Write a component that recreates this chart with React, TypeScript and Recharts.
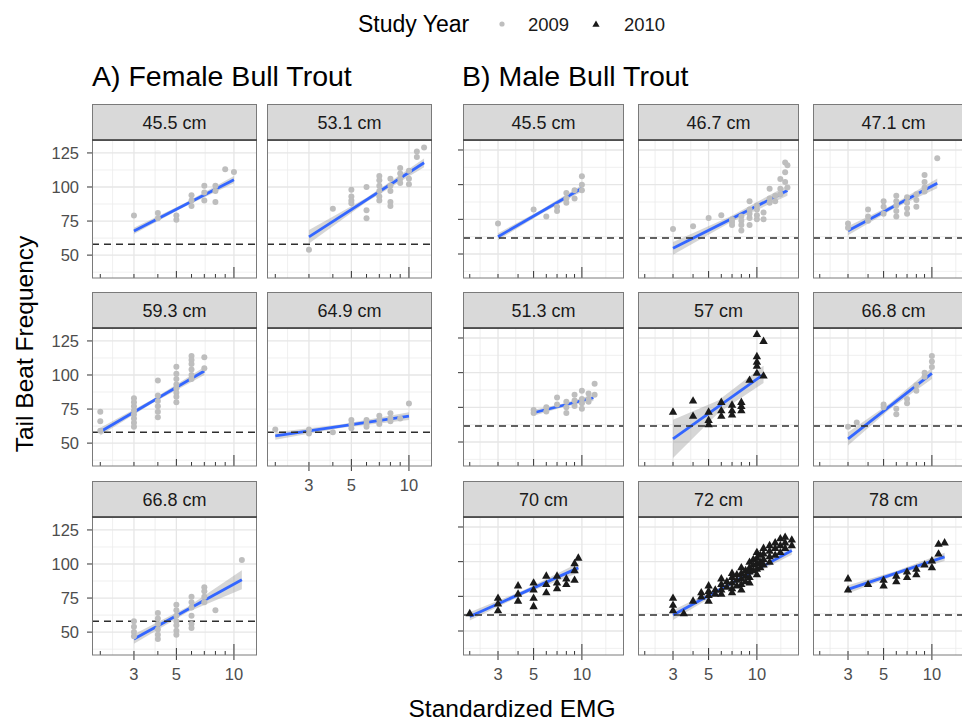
import React from "react";
import {
  ComposedChart,
  Scatter,
  Line,
  Area,
  XAxis,
  YAxis,
  CartesianGrid,
  ReferenceLine,
} from "recharts";

type Pt = [number, number];
type BandPt = [number, number, number];

const FONT = '"Liberation Sans", Arial, Helvetica, sans-serif';

// ---- data: [standardized EMG, tail beat frequency] ----

const F_45_5: Pt[] = [
  [3, 79], [4, 81], [4, 77], [5, 79], [5, 76], [6, 94], [6, 90], [6, 86],
  [7, 101], [7, 96], [7, 90], [8, 101], [8, 97], [8, 89], [9, 113], [10, 111],
];
const F_53_1: Pt[] = [
  [3, 54], [4, 84], [5, 98], [5, 93], [5, 90], [5, 88], [6, 100], [6, 83], [6, 77],
  [7, 108], [7, 105], [7, 101], [7, 97], [7, 93], [7, 90], [8, 106], [8, 101],
  [8, 97], [8, 89], [8, 86], [9, 114], [9, 110], [9, 106], [9, 103], [10, 112],
  [10, 106], [10, 102], [11, 126], [11, 122], [12, 129],
];
const F_59_3: Pt[] = [
  [2, 73], [2, 66], [2, 59], [3, 83], [3, 80], [3, 77], [3, 74], [3, 71], [3, 68],
  [3, 65], [3, 62], [4, 96], [4, 85], [4, 81], [4, 77], [4, 73], [4, 69], [5, 106],
  [5, 101], [5, 97], [5, 93], [5, 90], [5, 87], [5, 84], [5, 80], [6, 114], [6, 111],
  [6, 108], [6, 104], [6, 100], [6, 97], [7, 113], [7, 105],
];
const F_64_9: Pt[] = [
  [2, 60], [3, 60], [3, 57], [4, 58], [5, 67], [5, 64], [5, 61], [6, 67], [6, 64],
  [6, 62], [7, 70], [7, 67], [7, 64], [8, 72], [8, 68], [8, 66], [9, 68], [10, 79],
];
const F_66_8: Pt[] = [
  [3, 58], [3, 54], [3, 50], [3, 47], [4, 64], [4, 60], [4, 56], [4, 52], [4, 48],
  [4, 45], [5, 70], [5, 66], [5, 62], [5, 58], [5, 55], [5, 51], [5, 48], [6, 76],
  [6, 72], [6, 68], [6, 62], [6, 56], [6, 53], [7, 83], [7, 80], [7, 76], [7, 72],
  [8, 66], [11, 103],
];

const M_45_5: Pt[] = [
  [3, 72], [5, 82], [6, 77], [7, 84], [7, 81], [8, 94], [8, 90], [8, 87],
  [9, 96], [9, 90], [10, 106], [10, 100], [10, 96],
];
const M_46_7: Pt[] = [
  [3, 68], [4, 70], [5, 76], [6, 78], [7, 75], [7, 73], [7, 71], [8, 77], [8, 74],
  [8, 71], [8, 67], [9, 88], [9, 82], [9, 79], [9, 76], [9, 71], [10, 85], [10, 82],
  [10, 78], [10, 75], [11, 80], [11, 75], [12, 97], [12, 90], [12, 87], [13, 92],
  [13, 88], [14, 104], [14, 97], [14, 93], [15, 116], [15, 109], [15, 102],
  [15.5, 114], [15.5, 98],
];
const M_47_1: Pt[] = [
  [3, 72], [3, 69], [4, 82], [4, 77], [4, 74], [5, 88], [5, 84], [5, 79], [6, 92],
  [6, 88], [6, 85], [6, 81], [6, 77], [7, 91], [7, 87], [7, 83], [7, 79], [8, 93],
  [8, 89], [8, 84], [9, 107], [9, 102], [9, 98], [9, 95], [10.8, 119],
];
const M_51_3: Pt[] = [
  [5, 73], [5, 71], [6, 75], [6, 72], [7, 82], [7, 77], [8, 79], [8, 75], [8, 71],
  [9, 84], [9, 80], [9, 76], [10, 87], [10, 81], [10, 78], [10, 74], [11, 85],
  [11, 81], [11, 79], [12, 92], [12, 84],
];
const M_57: Pt[] = [
  [3, 72], [4, 80], [4, 69], [5, 72], [5, 66], [5, 63], [6, 79], [6, 73], [6, 69],
  [7, 77], [7, 73], [7, 70], [8, 79], [8, 76], [8, 73], [9, 95], [10, 128], [10, 112],
  [10, 108], [10, 105], [10, 100], [11, 123], [11, 98],
];
const M_66_8: Pt[] = [
  [3, 61], [3.4, 64], [5, 77], [5, 75], [6, 74], [6, 70], [7, 81], [7, 78], [8, 91],
  [8, 87], [9, 100], [9, 97], [10, 112], [10, 108], [10, 104],
];
const M_70: Pt[] = [
  [2, 63], [3, 74], [3, 70], [3, 65], [4, 83], [4, 77], [4, 72], [5, 85], [5, 80],
  [5, 74], [5, 68], [6, 90], [6, 84], [6, 78], [7, 90], [7, 85], [7, 81], [8, 88],
  [8, 84], [9, 99], [9, 94], [9, 87], [9.5, 103],
];
const M_72: Pt[] = [
  [3, 74], [3, 69], [3, 65], [3.5, 63], [4, 72], [4.5, 78], [4.5, 75], [5, 83],
  [5, 79], [5, 76], [5, 72], [5.5, 80], [5.5, 77], [6, 88], [6, 84], [6, 80], [6, 77],
  [6.5, 86], [6.5, 82], [7, 92], [7, 89], [7, 85], [7, 81], [7, 78], [7.5, 91],
  [7.5, 87], [7.5, 83], [8, 96], [8, 92], [8, 88], [8, 84], [8, 80], [8.5, 94],
  [8.5, 90], [8.5, 86], [9, 100], [9, 96], [9, 93], [9, 89], [9, 85], [9.5, 102],
  [9.5, 98], [9.5, 94], [10, 107], [10, 103], [10, 99], [10, 95], [10, 91],
  [10.5, 105], [10.5, 100], [10.5, 96], [11, 110], [11, 106], [11, 102], [11, 98],
  [12, 112], [12, 108], [12, 104], [12, 100], [13, 114], [13, 110], [13, 105],
  [14, 117], [14, 112], [14, 107], [15, 118], [15, 114], [15, 110], [16.5, 116],
  [16.5, 112],
];
const M_78: Pt[] = [
  [3, 88], [3, 80], [4, 84], [5, 87], [5, 83], [6, 90], [6, 86], [7, 93], [7, 89],
  [8, 95], [8, 91], [9, 98], [10, 101], [10, 96], [11, 113], [11, 106], [12, 114],
];

// fitted regression ends and the confidence band as [x, lower, upper]
const F_45_5_FIT: Pt[] = [[3, 67.7], [10, 105.4]];
const F_45_5_BAND: BandPt[] = [[3, 65.5, 70], [5.48, 85.3, 87.8], [10, 102.8, 108]];
const F_53_1_FIT: Pt[] = [[3, 63.4], [12, 117.8]];
const F_53_1_BAND: BandPt[] = [[3, 58.5, 68.5], [6, 89, 92.2], [12, 114.5, 121]];
const F_59_3_FIT: Pt[] = [[2, 58.3], [7, 102.9]];
const F_59_3_BAND: BandPt[] = [[2, 55.5, 61.2], [3.74, 79.2, 82], [7, 100, 105.8]];
const F_64_9_FIT: Pt[] = [[2, 55.3], [10, 69.8]];
const F_64_9_BAND: BandPt[] = [[2, 52.5, 58], [4.47, 61.3, 63.8], [10, 67, 72.6]];
const F_66_8_FIT: Pt[] = [[3, 45], [11, 88.5]];
const F_66_8_BAND: BandPt[] = [[3, 41.5, 48.5], [5.74, 64.8, 68.7], [11, 81.5, 95.5]];

const M_45_5_FIT: Pt[] = [[3, 62.5], [10, 97.4]];
const M_45_5_BAND: BandPt[] = [[3, 60, 65], [5.48, 78.5, 81.4], [10, 95, 99.8]];
const M_46_7_FIT: Pt[] = [[3, 54.1], [15.5, 95.7]];
const M_46_7_BAND: BandPt[] = [[3, 49.5, 58.7], [6.82, 72.8, 77], [15.5, 92, 99.4]];
const M_47_1_FIT: Pt[] = [[3, 66.8], [10.8, 101]];
const M_47_1_BAND: BandPt[] = [[3, 63.5, 70], [5.69, 82.3, 85.5], [10.8, 97.5, 104.5]];
const M_51_3_FIT: Pt[] = [[5, 71.1], [11.8, 81.9]];
const M_51_3_BAND: BandPt[] = [[5, 69, 73.2], [7.68, 75.3, 77.7], [11.8, 79.6, 84.2]];
const M_57_FIT: Pt[] = [[3, 52.2], [11, 98.8]];
const M_57_BAND: BandPt[] = [[3, 38.5, 66], [5.74, 71, 80], [11, 92.5, 105]];
const M_66_8_FIT: Pt[] = [[3, 52.2], [10, 99.5]];
const M_66_8_BAND: BandPt[] = [[3, 47.5, 57], [5.48, 73.8, 77.9], [10, 95.5, 103.5]];
const M_70_FIT: Pt[] = [[2, 60.5], [9.5, 95.5]];
const M_70_BAND: BandPt[] = [[2, 57.5, 63.5], [4.36, 76.5, 79.5], [9.5, 92, 99]];
const M_72_FIT: Pt[] = [[3, 61.5], [16.5, 108]];
const M_72_BAND: BandPt[] = [[3, 58, 65], [7.04, 83.3, 86.2], [16.5, 105, 111]];
const M_78_FIT: Pt[] = [[3, 80], [12, 103.5]];
const M_78_BAND: BandPt[] = [[3, 77, 83], [6, 90.3, 93.2], [12, 100.5, 106.5]];

const FEMALE_THRESHOLD = 58;
const MALE_THRESHOLD = 61.5;

const X_LOG_TICKS = [2, 3, 4, 5, 6, 7, 8, 9, 10];
const X_BREAKS = [3, 5, 10];
const Y_BREAKS = [50, 75, 100, 125];
const Y_MINOR = [37.5, 62.5, 87.5, 112.5];

// ---- layout ----
const STRIP_TOPS = [104, 292, 481];
const STRIP_H = 36;
const PLOT_H = 138;
const AX_L = 60;
const AX_B = 40;

type Block = "female" | "male";

const BLOCKS = {
  female: {
    lefts: [92, 267],
    width: 165,
    xDomain: [1.81, 13.2],
    yDomain: [33.2, 134.5],
    xMinor: [2.32, 3.87, 7.07],
    threshold: FEMALE_THRESHOLD,
  },
  male: {
    lefts: [463, 638, 813],
    width: 161,
    xDomain: [1.815, 18.3],
    yDomain: [32.7, 132.2],
    xMinor: [2.32, 3.87, 7.07, 14.1],
    threshold: MALE_THRESHOLD,
  },
};

interface Panel {
  label: string;
  block: Block;
  col: number;
  row: number;
  year: "2009" | "2010";
  points: Pt[];
  fit: Pt[];
  band: BandPt[];
  xLabels: boolean;
}

const PANELS: Panel[] = [
  { label: "45.5 cm", block: "female", col: 0, row: 0, year: "2009", points: F_45_5, fit: F_45_5_FIT, band: F_45_5_BAND, xLabels: false },
  { label: "53.1 cm", block: "female", col: 1, row: 0, year: "2009", points: F_53_1, fit: F_53_1_FIT, band: F_53_1_BAND, xLabels: false },
  { label: "59.3 cm", block: "female", col: 0, row: 1, year: "2009", points: F_59_3, fit: F_59_3_FIT, band: F_59_3_BAND, xLabels: false },
  { label: "64.9 cm", block: "female", col: 1, row: 1, year: "2009", points: F_64_9, fit: F_64_9_FIT, band: F_64_9_BAND, xLabels: true },
  { label: "66.8 cm", block: "female", col: 0, row: 2, year: "2009", points: F_66_8, fit: F_66_8_FIT, band: F_66_8_BAND, xLabels: true },
  { label: "45.5 cm", block: "male", col: 0, row: 0, year: "2009", points: M_45_5, fit: M_45_5_FIT, band: M_45_5_BAND, xLabels: false },
  { label: "46.7 cm", block: "male", col: 1, row: 0, year: "2009", points: M_46_7, fit: M_46_7_FIT, band: M_46_7_BAND, xLabels: false },
  { label: "47.1 cm", block: "male", col: 2, row: 0, year: "2009", points: M_47_1, fit: M_47_1_FIT, band: M_47_1_BAND, xLabels: false },
  { label: "51.3 cm", block: "male", col: 0, row: 1, year: "2009", points: M_51_3, fit: M_51_3_FIT, band: M_51_3_BAND, xLabels: false },
  { label: "57 cm", block: "male", col: 1, row: 1, year: "2010", points: M_57, fit: M_57_FIT, band: M_57_BAND, xLabels: false },
  { label: "66.8 cm", block: "male", col: 2, row: 1, year: "2009", points: M_66_8, fit: M_66_8_FIT, band: M_66_8_BAND, xLabels: false },
  { label: "70 cm", block: "male", col: 0, row: 2, year: "2010", points: M_70, fit: M_70_FIT, band: M_70_BAND, xLabels: true },
  { label: "72 cm", block: "male", col: 1, row: 2, year: "2010", points: M_72, fit: M_72_FIT, band: M_72_BAND, xLabels: true },
  { label: "78 cm", block: "male", col: 2, row: 2, year: "2010", points: M_78, fit: M_78_FIT, band: M_78_BAND, xLabels: true },
];

const GREY_DOT = "#BEBEBE";
const TRI = "#1A1A1A";
const BORDER = "#7A7A7A";

const trianglePath = (cx: number, cy: number, s = 4.2) =>
  `M${cx},${cy - s} L${cx + s},${cy + s * 0.75} L${cx - s},${cy + s * 0.75} Z`;

// log ticks drawn inside the panel, plus the outer axis ticks/labels on bottom panels
const XTick = (props: any) => {
  const { x, y, payload, showLabels } = props;
  const v = payload.value;
  const len = v === 10 ? 11 : v === 5 ? 7 : 4;
  const labelled = showLabels && X_BREAKS.includes(v);
  return (
    <g>
      <line x1={x} x2={x} y1={y} y2={y - len} stroke="#333" strokeWidth={1} />
      {labelled && (
        <>
          <line x1={x} x2={x} y1={y} y2={y + 5} stroke="#333" strokeWidth={1} />
          <text x={x} y={y + 25} textAnchor="middle" fontSize={16.5} fill="#4D4D4D" fontFamily={FONT}>
            {v}
          </text>
        </>
      )}
    </g>
  );
};

const YTick = (props: any) => {
  const { x, y, payload, showTick, showLabels } = props;
  if (!showTick) return <g />;
  return (
    <g>
      <line x1={x - 5} x2={x} y1={y} y2={y} stroke="#333" strokeWidth={1} />
      {showLabels && (
        <text x={x - 13} y={y} dy="0.36em" textAnchor="end" fontSize={16.5} fill="#4D4D4D" fontFamily={FONT}>
          {payload.value}
        </text>
      )}
    </g>
  );
};

function FacetPanel({ p }: { p: Panel }) {
  const b = BLOCKS[p.block];
  const left = b.lefts[p.col];
  const top = STRIP_TOPS[p.row] + STRIP_H;
  const w = b.width + AX_L;
  const h = PLOT_H + AX_B;
  const points = p.points.map(([x, y]) => ({ x, y }));
  const fit = p.fit.map(([x, y]) => ({ x, y }));
  const band = p.band.map(([x, lo, hi]) => ({ x, band: [lo, hi] }));
  const firstCol = p.col === 0;
  const yLabels = firstCol && p.block === "female";

  return (
    <div style={{ position: "absolute", left: left - AX_L, top, width: w, height: h }}>
      <ComposedChart width={w} height={h} margin={{ top: 0, right: 0, bottom: 0, left: 0 }}>
        <CartesianGrid verticalValues={b.xMinor} horizontalValues={Y_MINOR} stroke="#EBEBEB" strokeWidth={0.8} />
        <CartesianGrid verticalValues={X_BREAKS} horizontalValues={Y_BREAKS} stroke="#E6E6E6" strokeWidth={1.3} />
        <XAxis
          type="number"
          dataKey="x"
          scale="log"
          domain={b.xDomain}
          allowDataOverflow
          ticks={X_LOG_TICKS}
          interval={0}
          height={AX_B}
          tickSize={0}
          tickMargin={0}
          axisLine={false}
          tickLine={false}
          tick={(t: any) => <XTick {...t} showLabels={p.xLabels} />}
        />
        <YAxis
          type="number"
          dataKey="y"
          domain={b.yDomain}
          allowDataOverflow
          ticks={Y_BREAKS}
          interval={0}
          width={AX_L}
          tickSize={0}
          tickMargin={0}
          axisLine={false}
          tickLine={false}
          tick={(t: any) => <YTick {...t} showTick={firstCol} showLabels={yLabels} />}
        />
        <Scatter
          data={points}
          isAnimationActive={false}
          shape={(s: any) =>
            p.year === "2009" ? (
              <circle cx={s.cx} cy={s.cy} r={3} fill={GREY_DOT} />
            ) : (
              <path d={trianglePath(s.cx, s.cy)} fill={TRI} />
            )
          }
        />
        <Area
          data={band}
          dataKey="band"
          type="linear"
          stroke="none"
          fill="#999999"
          fillOpacity={0.4}
          isAnimationActive={false}
        />
        <Line
          data={fit}
          dataKey="y"
          type="linear"
          stroke="#3366FF"
          strokeWidth={2.8}
          dot={false}
          isAnimationActive={false}
        />
        <ReferenceLine y={b.threshold} stroke="#2E2E2E" strokeWidth={1.6} strokeDasharray="7 5" />
      </ComposedChart>
    </div>
  );
}

function Frames() {
  return (
    <svg
      width={962}
      height={721}
      style={{ position: "absolute", left: 0, top: 0, pointerEvents: "none" }}
      fontFamily={FONT}
    >
      {PANELS.map((p, i) => {
        const b = BLOCKS[p.block];
        const x = b.lefts[p.col];
        const y = STRIP_TOPS[p.row];
        return (
          <g key={i}>
            <rect x={x + 0.5} y={y + 0.5} width={b.width - 1} height={STRIP_H} fill="#D9D9D9" stroke={BORDER} />
            <text x={x + b.width / 2} y={y + STRIP_H / 2 + 6.5} textAnchor="middle" fontSize={18} fill="#1A1A1A">
              {p.label}
            </text>
            <rect x={x + 0.5} y={y + STRIP_H} width={b.width - 1} height={PLOT_H} fill="none" stroke={BORDER} />
            <line x1={x} x2={x + b.width} y1={y + STRIP_H} y2={y + STRIP_H} stroke="#404040" strokeWidth={1.6} />
          </g>
        );
      })}

      <text x={92} y={86} fontSize={28.5} fill="#000">A) Female Bull Trout</text>
      <text x={462} y={86} fontSize={28.5} fill="#000">B) Male Bull Trout</text>

      {/* legend */}
      <text x={358} y={32} fontSize={23} fill="#000">Study Year</text>
      <circle cx={502} cy={24} r={2.6} fill={GREY_DOT} />
      <text x={528} y={31} fontSize={18.5} fill="#1A1A1A">2009</text>
      <path d={trianglePath(596, 24, 3.6)} fill={TRI} />
      <text x={624} y={31} fontSize={18.5} fill="#1A1A1A">2010</text>

      {/* axis titles */}
      <text x={512} y={717} textAnchor="middle" fontSize={24.5} fill="#000">Standardized EMG</text>
      <text
        x={24}
        y={344}
        transform="rotate(-90 24 344)"
        textAnchor="middle"
        dy="0.35em"
        fontSize={24.5}
        fill="#000"
      >
        Tail Beat Frequency
      </text>
    </svg>
  );
}

export default function App() {
  return (
    <div
      style={{
        position: "absolute",
        left: 0,
        top: 0,
        width: 962,
        height: 721,
        overflow: "hidden",
        background: "#fff",
        fontFamily: FONT,
      }}
    >
      {PANELS.map((p, i) => (
        <FacetPanel key={i} p={p} />
      ))}
      <Frames />
    </div>
  );
}
